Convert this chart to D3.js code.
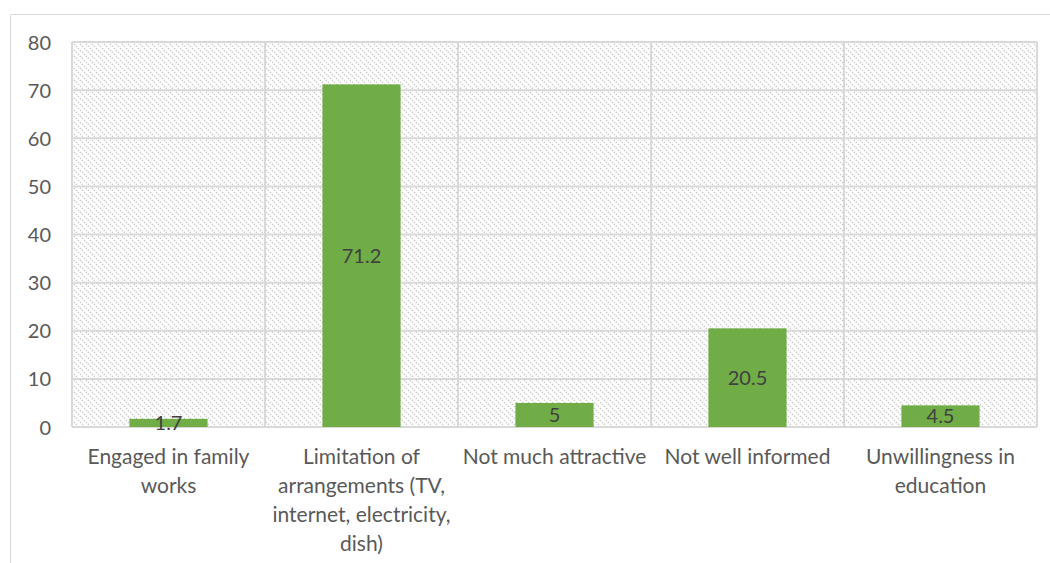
<!DOCTYPE html>
<html><head><meta charset="utf-8">
<script src="https://cdn.jsdelivr.net/npm/d3@7/dist/d3.min.js"></script>
<style>body{margin:0;background:#fff}</style>
</head><body>
<svg id="c" width="1050" height="563"></svg>
<script>
const categories = [
  "Engaged in family works",
  "Limitation of arrangements (TV, internet, electricity, dish)",
  "Not much attractive",
  "Not well informed",
  "Unwillingness in education"
];
const categoryLines = [
  ["Engaged in family", "works"],
  ["Limitation of", "arrangements (TV,", "internet, electricity,", "dish)"],
  ["Not much attractive"],
  ["Not well informed"],
  ["Unwillingness in", "education"]
];
const values = [1.7, 71.2, 5, 20.5, 4.5];
const yTicks = [0, 10, 20, 30, 40, 50, 60, 70, 80];

const svg = d3.select("#c");
const font = "Lato, 'Open Sans', sans-serif";
const m = {left: 72, right: 1037, top: 42, bottom: 427};

const defs = svg.append("defs");
const pat = defs.append("pattern").attr("id", "hatch").attr("patternUnits", "userSpaceOnUse")
  .attr("width", 6).attr("height", 6);
pat.append("path").attr("d", "M0,0 L6,6 M-3,3 L3,9 M3,-3 L9,3")
  .attr("stroke", "#c8c8c8").attr("stroke-width", 1.3).attr("stroke-dasharray", "1.5,1.2");

// outer frame
svg.append("path").attr("d", `M10.5,563 L10.5,14.5 L1050,14.5`)
  .attr("fill", "none").attr("stroke", "#d9d9d9").attr("stroke-width", 1);

const x = d3.scaleBand().domain(categories).range([m.left, m.right]).paddingInner(0).paddingOuter(0);
const y = d3.scaleLinear().domain([0, 80]).range([m.bottom, m.top]);

svg.append("rect").attr("x", m.left).attr("y", m.top).attr("width", m.right - m.left)
  .attr("height", m.bottom - m.top).attr("fill", "url(#hatch)");

// horizontal gridlines
svg.append("g").selectAll("line").data(yTicks).join("line")
  .attr("x1", m.left).attr("x2", m.right)
  .attr("y1", d => y(d)).attr("y2", d => y(d))
  .attr("stroke", "#d9d9d9").attr("stroke-width", 2);

// vertical gridlines at category boundaries
const bounds = categories.map(c => x(c)).concat([m.right]);
svg.append("g").selectAll("line").data(bounds).join("line")
  .attr("x1", d => d).attr("x2", d => d)
  .attr("y1", m.top).attr("y2", m.bottom)
  .attr("stroke", "#d9d9d9").attr("stroke-width", 2);

// y axis labels
const yAxis = d3.axisLeft(y).tickValues(yTicks).tickSize(0).tickPadding(0);
const ya = svg.append("g").attr("transform", `translate(51,0)`).call(yAxis);
ya.select(".domain").remove();
ya.selectAll("text").attr("font-family", font).attr("font-size", 20).attr("fill", "#595959")
  .attr("dy", "0.35em");

// bars
const bw = x.bandwidth() * 0.405;
svg.append("g").selectAll("rect").data(values).join("rect")
  .attr("x", (d, i) => x(categories[i]) + (x.bandwidth() - bw) / 2)
  .attr("width", bw)
  .attr("y", d => y(d))
  .attr("height", d => y(0) - y(d))
  .attr("fill", "#70ad47");

// data labels
svg.append("g").selectAll("text").data(values).join("text")
  .attr("x", (d, i) => x(categories[i]) + x.bandwidth() / 2)
  .attr("y", d => (y(d) + y(0)) / 2)
  .attr("dy", "0.35em")
  .attr("text-anchor", "middle")
  .attr("font-family", font).attr("font-size", 20).attr("fill", "#404040")
  .text(d => d);

// category labels
const cg = svg.append("g").selectAll("text").data(categories).join("text")
  .attr("text-anchor", "middle")
  .attr("font-family", font).attr("font-size", 21).attr("fill", "#595959");
cg.each(function(c, i) {
  const t = d3.select(this);
  categoryLines[i].forEach((ln, j) => {
    t.append("tspan").attr("x", x(c) + x.bandwidth() / 2).attr("y", 457 + j * 29)
      .attr("dy", "0.35em").text(ln);
  });
});
</script>
</body></html>
